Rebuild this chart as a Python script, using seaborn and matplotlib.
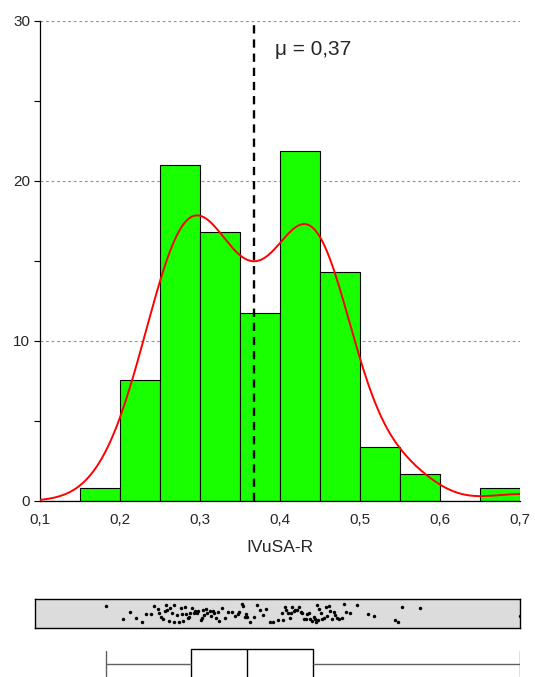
import numpy as np
import matplotlib
matplotlib.use("Agg")
import matplotlib.pyplot as plt
import seaborn as sns

# IVuSA-R values (estimated from strip plot / histogram)
ivusa_r = [
    0.183,
    0.204, 0.212, 0.220, 0.228, 0.233, 0.239, 0.243, 0.247, 0.249,
    0.251, 0.254, 0.256, 0.258, 0.259, 0.261, 0.263, 0.265, 0.267, 0.268,
    0.271, 0.274, 0.276, 0.278, 0.279, 0.281, 0.283, 0.285, 0.286, 0.288,
    0.290, 0.292, 0.294, 0.296, 0.298,
    0.301, 0.302, 0.304, 0.305, 0.307, 0.309, 0.312, 0.314, 0.316, 0.318,
    0.320, 0.322, 0.324, 0.327, 0.331, 0.335, 0.340, 0.344, 0.347, 0.349,
    0.352, 0.354, 0.356, 0.358, 0.359, 0.363, 0.367, 0.371, 0.375, 0.379,
    0.383, 0.387, 0.391, 0.397,
    0.402, 0.404, 0.406, 0.408, 0.410, 0.412, 0.414, 0.415, 0.417, 0.419,
    0.421, 0.424, 0.426, 0.428, 0.430, 0.432, 0.434, 0.436, 0.438, 0.440,
    0.442, 0.444, 0.445, 0.446, 0.448, 0.449,
    0.451, 0.453, 0.455, 0.457, 0.459, 0.461, 0.463, 0.465, 0.467, 0.469,
    0.471, 0.474, 0.477, 0.480, 0.483, 0.487, 0.496,
    0.510, 0.518, 0.544, 0.548,
    0.553, 0.575,
    0.700,
]
x_ticks = [0.1, 0.2, 0.3, 0.4, 0.5, 0.6, 0.7]
x_tick_labels = ["0,1", "0,2", "0,3", "0,4", "0,5", "0,6", "0,7"]
y_ticks = [0, 10, 20, 30]
y_minor_ticks = [5, 15, 25]
x_label = "IVuSA-R"

sns.set_theme(style="white")
plt.rcParams["font.family"] = ["Liberation Sans", "DejaVu Sans"]

W, H = 535, 677
fig = plt.figure(figsize=(W / 100, H / 100), dpi=100)


def px(l, t, r, b):
    return [l / W, (H - b) / H, (r - l) / W, (b - t) / H]


# ---- histogram ----
ax = fig.add_axes(px(40, 21, 520, 501))
ax.set_axisbelow(True)
sns.histplot(x=ivusa_r, ax=ax, stat="percent", binwidth=0.05, binrange=(0.1, 0.7),
             color="#1aff00", edgecolor="black", linewidth=0.8, alpha=1)
ax.set_xlim(0.1, 0.7)
ax.set_ylim(0, 30)
ax.set_yticks(y_ticks)
ax.set_yticks(y_minor_ticks, minor=True)
ax.set_xticks(x_ticks)
ax.set_xticklabels(x_tick_labels)
ax.yaxis.grid(True, which="major", linestyle=(0, (2.5, 2.5)), color="#909090", lw=0.8)
ax.xaxis.grid(False)
ax.tick_params(axis="y", which="both", left=True, length=4, width=0.8, color="black",
               labelsize=11, pad=3)
ax.tick_params(axis="x", length=0, labelsize=11, pad=9)
for s in ["top", "right"]:
    ax.spines[s].set_visible(False)
for s in ["left", "bottom"]:
    ax.spines[s].set_color("black")
    ax.spines[s].set_linewidth(0.9)
ax.set_ylabel("")
ax.set_xlabel(x_label, fontsize=12.5, labelpad=9)

mean_val = float(np.mean(ivusa_r))
ax.axvline(mean_val, color="black", lw=1.7, linestyle=(0, (3.5, 2.5)), zorder=5)

# KDE on a twin axis scaled to percent per 0.05 bin
axk = ax.twinx()
sns.kdeplot(x=ivusa_r, ax=axk, color="red", lw=1.4, cut=3, clip=(0.1, 0.7), bw_adjust=1.08)
axk.set_ylim(0, 30 / (100 * 0.05))
axk.set_xlim(0.1, 0.7)
axk.axis("off")

ax.text(0.394, 28.2, "μ = " + f"{mean_val:.2f}".replace(".", ","), fontsize=15,
        va="center", ha="left")

# ---- strip plot ----
xl = (0.1 - 5 / 800, 0.7)
axs = fig.add_axes(px(35, 599, 520, 628))
np.random.seed(7)
sns.stripplot(x=ivusa_r, ax=axs, color="black", size=2.5, jitter=0.32)
axs.set_facecolor("#dcdcdc")
axs.set_xlim(*xl)
axs.set_ylim(0.5, -0.5)
axs.set_xticks([])
axs.set_yticks([])
axs.set_xlabel("")
for s in axs.spines.values():
    s.set_visible(True)
    s.set_color("black")
    s.set_linewidth(1.0)

# ---- box plot ----
axb = fig.add_axes(px(35, 639.7, 520, 687.7))
sns.boxplot(x=ivusa_r, ax=axb, whis=(0, 100), width=0.61, color="white",
            linecolor="black", linewidth=1.0, showfliers=False, capwidths=0.53,
            whiskerprops=dict(color="#606060"), capprops=dict(color="#606060"))
axb.set_xlim(*xl)
axb.set_ylim(0.5, -0.5)
axb.axis("off")

fig.savefig("out.png", dpi=100)
